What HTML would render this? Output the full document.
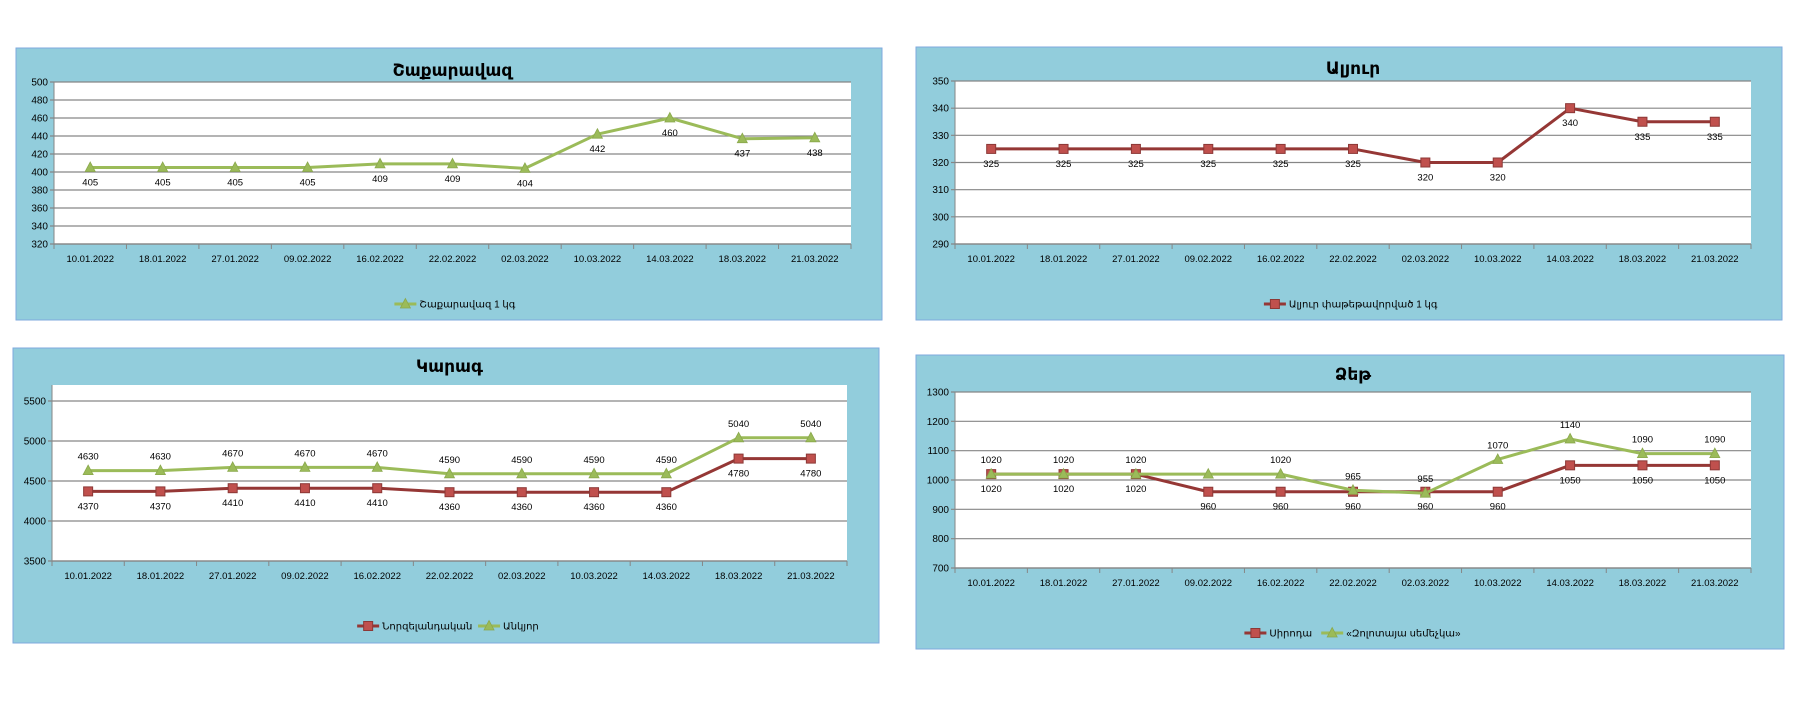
<!DOCTYPE html>
<html><head><meta charset="utf-8">
<style>
body{margin:0;width:1803px;height:710px;background:#fff;overflow:hidden;font-family:"Liberation Sans","DejaVu Sans",sans-serif;}
svg{position:absolute;left:0;top:0}
</style></head>
<body>
<svg id="s" width="1803" height="710" xmlns="http://www.w3.org/2000/svg"></svg>
<script>
const categories=["10.01.2022","18.01.2022","27.01.2022","09.02.2022","16.02.2022","22.02.2022","02.03.2022","10.03.2022","14.03.2022","18.03.2022","21.03.2022"];
const sugarValues=[405,405,405,405,409,409,404,442,460,437,438];
const sugarTicks=[320,340,360,380,400,420,440,460,480,500];
const flourValues=[325,325,325,325,325,325,320,320,340,335,335];
const flourTicks=[290,300,310,320,330,340,350];
const butterNZ=[4370,4370,4410,4410,4410,4360,4360,4360,4360,4780,4780];
const butterAnkyur=[4630,4630,4670,4670,4670,4590,4590,4590,4590,5040,5040];
const butterTicks=[3500,4000,4500,5000,5500];
const oilSiroda=[1020,1020,1020,960,960,960,960,960,1050,1050,1050];
const oilZolotaya=[1020,1020,1020,1020,1020,965,955,1070,1140,1090,1090];
const oilTicks=[700,800,900,1000,1100,1200,1300];
const oilZolotayaHiddenLabels=[3];

const RED="#953735",GREEN="#9bbb59";
const svg=document.getElementById('s');
const NS="http://www.w3.org/2000/svg";
function mk(tag,attrs,parent,txt){const e=document.createElementNS(NS,tag);for(const k in attrs)e.setAttribute(k,attrs[k]);if(txt!==undefined)e.textContent=txt;parent.appendChild(e);return e;}

function marker(g,type,x,y){
  if(type==='sq'){return mk('rect',{x:x-4.5,y:y-4.5,width:9,height:9,fill:'#c0504d',stroke:'#8c3836','stroke-width':1},g);}
  return mk('polygon',{points:`${x},${y-5.5} ${x+5},${y+4} ${x-5},${y+4}`,fill:GREEN,stroke:'#8aa84c','stroke-width':0.8},g);
}

function chart(c){
  const g=mk('g',{},svg);
  
  
  const bg=mk('rect',{x:c.bx,y:c.by,width:c.bw,height:c.bh,fill:'#92cddc',stroke:'#7fa9de','stroke-width':1},g);
  
  
  const t=mk('text',{x:c.px+(c.pw)/2,y:c.ty,'font-size':17,'font-weight':'bold','text-anchor':'middle',fill:'#000'},g,c.title);
  
  
  mk('rect',{x:c.px,y:c.ptop,width:c.pw,height:c.pbot-c.ptop,fill:'#fff'},g);
  const ymin=c.ymin,ymax=c.ymax;
  const Y=v=>c.pbot-(v-ymin)/(ymax-ymin)*(c.pbot-c.ptop);
  const band=c.pw/categories.length;
  const X=i=>c.px+(i+0.5)*band;
  c.ticks.forEach(v=>{
    mk('line',{x1:c.px-4,x2:c.px+c.pw,y1:Y(v),y2:Y(v),stroke:'#868686','stroke-width':1.2},g);
    const tl=mk('text',{x:c.px-6,y:Y(v)+3.5,'font-size':10,'text-anchor':'end',fill:'#000'},g,v);
    
    
  });
  mk('line',{x1:c.px,x2:c.px,y1:c.ptop,y2:c.pbot,stroke:'#868686','stroke-width':1},g);
  mk('line',{x1:c.px,x2:c.px+c.pw,y1:c.pbot,y2:c.pbot,stroke:'#868686','stroke-width':1.2},g);
  for(let i=0;i<=categories.length;i++){mk('line',{x1:c.px+i*band,x2:c.px+i*band,y1:c.pbot,y2:c.pbot+5,stroke:'#868686'},g);}
  categories.forEach((cat,i)=>{
    const xl=mk('text',{x:X(i),y:c.pbot+18,'font-size':9.5,'text-anchor':'middle',fill:'#000'},g,cat);
    
    
  });
  c.series.forEach(s=>{
    const sg=mk('g',{},g);
    
    
    const pts=s.values.map((v,i)=>X(i)+','+Y(v)).join(' ');
    mk('polyline',{points:pts,fill:'none',stroke:s.color,'stroke-width':3,'stroke-linejoin':'round'},sg);
    s.values.forEach((v,i)=>{
      const m=marker(sg,s.marker,X(i),Y(v));
      
      
      if(s.hidden && s.hidden.includes(i)) return;
      const lb=mk('text',{x:X(i),y:Y(v)+(s.above?-11:18),'font-size':9.5,'text-anchor':'middle',fill:'#000'},sg,v);
      
      
    });
  });
  const lg=mk('g',{},g);
  
  
  let widths=c.series.map(s=>27+s.label.length*6.3);
  let total=widths.reduce((a,b)=>a+b,0)+(c.series.length-1)*12;
  let lx=c.lcx-total/2;
  c.series.forEach((s,k)=>{
    mk('line',{x1:lx,x2:lx+22,y1:c.ly,y2:c.ly,stroke:s.color,'stroke-width':3},lg);
    marker(lg,s.marker,lx+11,c.ly);
    const le=mk('text',{x:lx+25,y:c.ly+3.5,'font-size':10,fill:'#000'},lg,s.label);
    
    
    lx+=widths[k]+12;
  });
}

chart({name:'sugar-chart',title:'Շաքարավազ',bx:16,by:48,bw:866,bh:272,px:54,pw:797,ptop:82,pbot:244,ty:76,ymin:320,ymax:500,ticks:sugarTicks,lcx:452,ly:304,
  series:[{key:'sugar',values:sugarValues,color:GREEN,marker:'tri',above:false,label:'Շաքարավազ 1 կգ'}]});
chart({name:'flour-chart',title:'Ալյուր',bx:916,by:47,bw:866,bh:273,px:955,pw:796,ptop:81,pbot:244,ty:74,ymin:290,ymax:350,ticks:flourTicks,lcx:1353,ly:304,
  series:[{key:'flour',values:flourValues,color:RED,marker:'sq',above:false,label:'Ալյուր փաթեթավորված 1 կգ'}]});
chart({name:'butter-chart',title:'Կարագ',bx:13,by:348,bw:866,bh:295,px:52,pw:795,ptop:385,pbot:561,ty:372,ymin:3500,ymax:5700,ticks:butterTicks,lcx:450,ly:626,
  series:[{key:'nz',values:butterNZ,color:RED,marker:'sq',above:false,label:'Նորզելանդական'},
          {key:'ankyur',values:butterAnkyur,color:GREEN,marker:'tri',above:true,label:'Անկյոր'}]});
chart({name:'oil-chart',title:'Ձեթ',bx:916,by:355,bw:868,bh:294,px:955,pw:796,ptop:392,pbot:568,ty:380,ymin:700,ymax:1300,ticks:oilTicks,lcx:1353,ly:633,
  series:[{key:'siroda',values:oilSiroda,color:RED,marker:'sq',above:false,label:'Սիրոդա'},
          {key:'zolotaya',values:oilZolotaya,color:GREEN,marker:'tri',above:true,label:'«Զոլոտայա սեմեչկա»',hidden:oilZolotayaHiddenLabels}]});
</script>
</body></html>
